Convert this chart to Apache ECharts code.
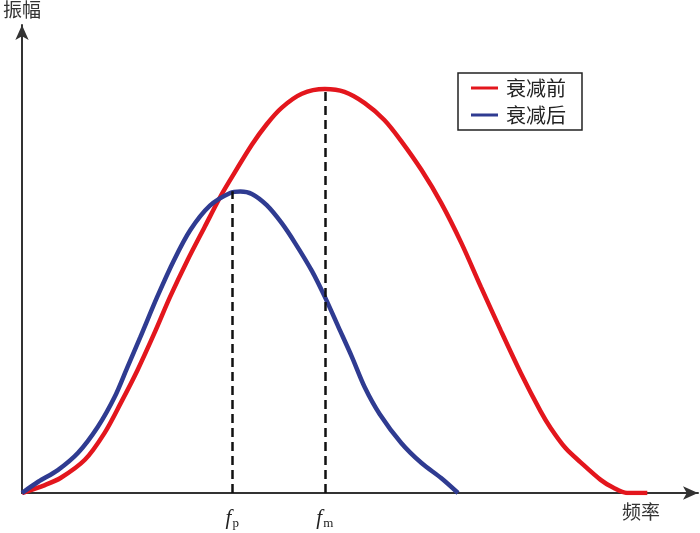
<!DOCTYPE html>
<html>
<head>
<meta charset="utf-8">
<script src="https://cdn.jsdelivr.net/npm/echarts@6/dist/echarts.min.js"></script>
<style>
  html, body { margin: 0; padding: 0; background: #fff; }
  #chart { width: 700px; height: 533px; }
</style>
</head>
<body>
<div id="chart"></div>
<script>
// 频率 (x) 与 振幅 (y), 相对单位 0-100
const seriesNames = ["衰减前", "衰减后"];
const beforeX = [0, 3.4, 5.7, 9.3, 12.2, 14.6, 17.1, 19.6, 21.9, 24.5, 27.0, 29.3, 30.8, 34.0, 36.2, 38.4, 41.4, 44.8, 47.7, 50.7, 53.6, 56.1, 59.1, 62.0, 65.0, 67.9, 70.8, 73.8, 76.7, 78.2, 80.4, 82.6, 85.6, 87.5, 89.5, 92.5];
const beforeY = [0, 1.7, 3.2, 7.1, 12.8, 19.2, 26.3, 34.2, 41.9, 49.8, 56.8, 63.2, 66.9, 74.4, 78.8, 82.3, 85.3, 86.3, 85.7, 83.3, 79.7, 75.2, 69.0, 62.0, 53.4, 44.0, 34.8, 25.6, 17.5, 13.9, 9.6, 6.6, 2.8, 1.1, 0, 0];
const afterX = [0, 2.4, 5.3, 8.3, 11.2, 13.7, 15.6, 17.5, 20.0, 22.5, 24.9, 27.8, 30.8, 32.3, 34.0, 36.2, 38.4, 40.4, 42.9, 44.8, 46.8, 48.8, 50.7, 52.9, 56.1, 59.1, 62.0, 64.5];
const afterY = [0, 2.4, 4.9, 8.6, 14.1, 20.5, 26.9, 33.3, 41.9, 49.8, 56.2, 61.4, 64.1, 64.4, 63.9, 61.5, 57.7, 53.4, 47.4, 41.9, 35.5, 29.1, 22.6, 16.9, 10.7, 6.4, 3.2, 0];
// 标记频率
const markX = [31.1, 44.8];
const markY = [64.5, 86.3];
const markSub = ["p", "m"];

const pairs = (xs, ys) => xs.map((x, i) => [x, ys[i]]);

const chart = echarts.init(document.getElementById("chart"));
chart.setOption({
  animation: false,
  grid: { left: 19, right: 2, top: 25, bottom: 40 },
  legend: {
    data: seriesNames,
    orient: "vertical",
    left: 458,
    top: 73,
    padding: [5, 16, 5, 13],
    itemGap: 7,
    itemWidth: 27,
    itemHeight: 3,
    icon: "rect",
    borderColor: "#222",
    borderWidth: 1.5,
    textStyle: {
      fontFamily: "Noto Sans CJK SC",
      fontSize: 20,
      color: "#222",
      padding: [0, 0, 0, 3],
    },
  },
  xAxis: {
    type: "value",
    min: 0,
    max: 100,
    name: "频率",
    nameLocation: "end",
    nameGap: -76,
    nameTextStyle: {
      fontFamily: "Noto Sans CJK SC",
      fontSize: 19,
      color: "#333",
      verticalAlign: "top",
      padding: [9, 0, 0, 0],
    },
    axisLine: {
      lineStyle: { color: "#333", width: 2 },
      symbol: ["none", "arrow"],
      symbolSize: [10, 15],
    },
    axisTick: { show: false },
    splitLine: { show: false },
    axisLabel: {
      customValues: markX,
      margin: 14,
      formatter: (v) => {
        const i = markX.indexOf(v);
        return i < 0 ? "" : "{f|f}{s|" + markSub[i] + "}";
      },
      rich: {
        f: {
          fontFamily: "Liberation Serif",
          fontStyle: "italic",
          fontSize: 21,
          color: "#222",
        },
        s: {
          fontFamily: "Liberation Serif",
          fontSize: 13,
          color: "#222",
          padding: [10, 0, 0, 1],
        },
      },
    },
  },
  yAxis: {
    type: "value",
    min: 0,
    max: 100,
    name: "振幅",
    nameLocation: "end",
    nameGap: 6,
    nameTextStyle: {
      fontFamily: "Noto Sans CJK SC",
      fontSize: 19,
      color: "#333",
      align: "center",
    },
    axisLine: {
      lineStyle: { color: "#333", width: 2 },
      symbol: ["none", "arrow"],
      symbolSize: [10, 15],
    },
    axisTick: { show: false },
    axisLabel: { show: false },
    splitLine: { show: false },
  },
  series: [
    {
      name: seriesNames[0],
      type: "line",
      data: pairs(beforeX, beforeY),
      smooth: 0.3,
      showSymbol: false,
      color: "#e3161d",
      lineStyle: { width: 4.5 },
      z: 3,
      markLine: {
        silent: true,
        symbol: "none",
        label: { show: false },
        lineStyle: { color: "#111", type: [9, 5], width: 2.5 },
        data: [[{ coord: [markX[1], 0] }, { coord: [markX[1], markY[1]] }]],
      },
    },
    {
      name: seriesNames[1],
      type: "line",
      data: pairs(afterX, afterY),
      smooth: 0.3,
      showSymbol: false,
      color: "#2f3b91",
      lineStyle: { width: 4.5 },
      z: 4,
      markLine: {
        silent: true,
        symbol: "none",
        label: { show: false },
        lineStyle: { color: "#111", type: [9, 5], width: 2.5 },
        data: [[{ coord: [markX[0], 0] }, { coord: [markX[0], markY[0]] }]],
      },
    },
  ],
});
</script>
</body>
</html>
